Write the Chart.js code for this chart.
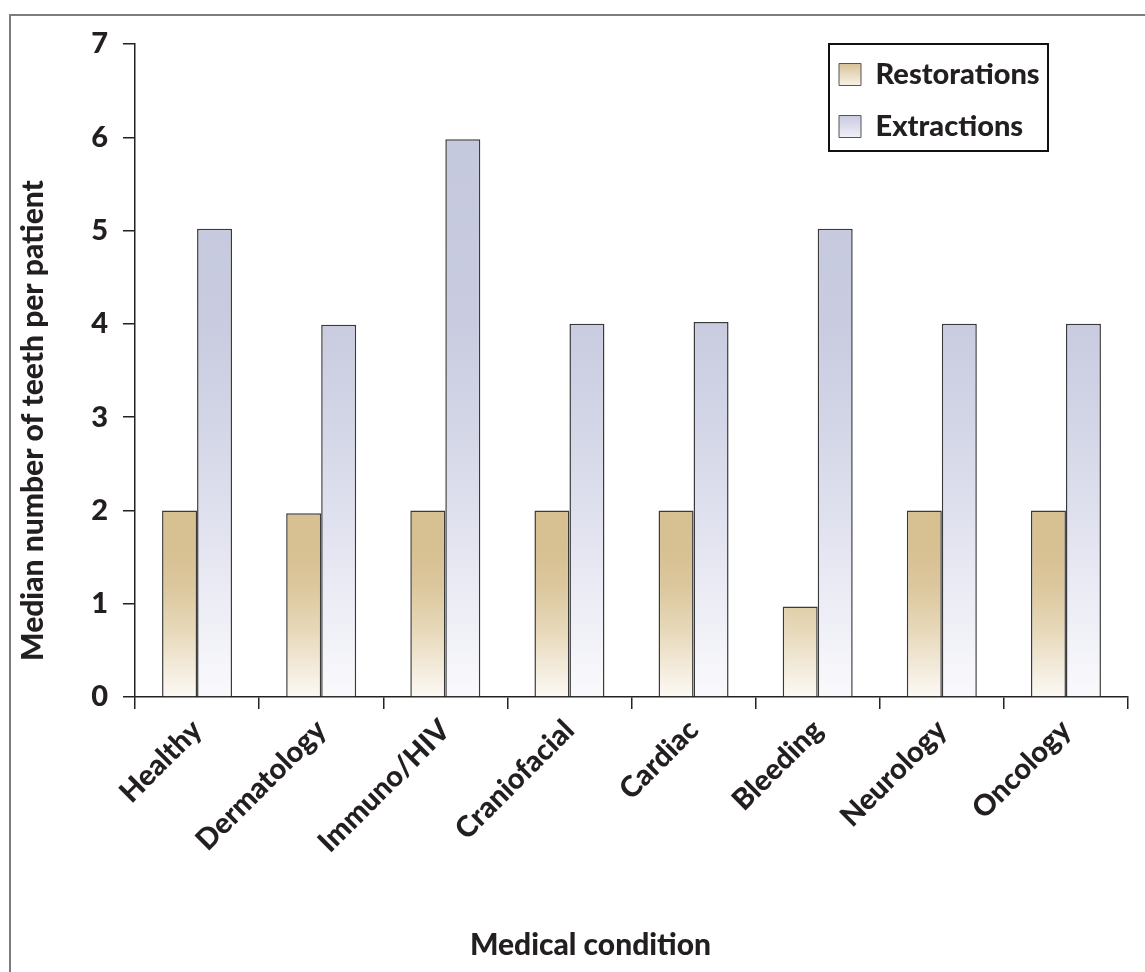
<!DOCTYPE html>
<html>
<head>
<meta charset="utf-8">
<script src="https://cdn.jsdelivr.net/npm/chart.js@4/dist/chart.umd.min.js"></script>
<style>
  html, body { margin: 0; padding: 0; background: #fff; }
  #wrap { position: relative; width: 1145px; height: 972px; overflow: hidden; }
  #frame { position: absolute; left: 9px; top: 14px; right: -10px; bottom: -10px;
           border-left: 2px solid #7d7d7d; border-top: 2px solid #7d7d7d; pointer-events: none; }
  canvas { position: absolute; left: 0; top: 0; }
</style>
</head>
<body>
<div id="wrap">
  <canvas id="chart" width="1145" height="972"></canvas>
  <div id="frame"></div>
</div>
<script>
// Median teeth treated per patient, by medical condition
const categories = ['Healthy', 'Dermatology', 'Immuno/HIV', 'Craniofacial', 'Cardiac', 'Bleeding', 'Neurology', 'Oncology'];
const restorations = [2, 1.97, 2, 2, 2, 0.97, 2, 2];
const extractions = [5.02, 3.99, 5.98, 4, 4.02, 5.02, 4, 4];
const yMin = 0;
const yMax = 7;
const yStep = 1;
const yTitle = 'Median number of teeth per patient';
const xTitle = 'Medical condition';

// Colour stops for the vertical fades, keyed by axis value
const restorationStops = [[0, '#fcfaf5'], [0.3, '#f3ecdc'], [0.7, '#e7d9ba'], [1.2, '#dcc79d'], [1.6, '#d7c091'], [7, '#d6be8e']];
const extractionStops = [[0, '#fafafd'], [1, '#ecedf5'], [2, '#dfe0ee'], [3, '#d2d5e6'], [4, '#c9cce0'], [7, '#c3c7dd']];
const swatchStops = [['#d8c297', '#f8f3e7'], ['#c8cbe0', '#f0f0f6']];

const FONT = 'Lato, "Open Sans", sans-serif';
const WEIGHT = '900';
const INK = '#231f20';
const LEG_PAD = 23;
const LEG_FONT = 29;
const LEG_BOX = 22;
const TICK_FONT = 29;
const TITLE_FONT = 30;

function verticalFill(stops) {
  return (context) => {
    const chart = context.chart;
    const { ctx, chartArea, scales } = chart;
    if (!chartArea || !scales.y) return stops[stops.length - 1][1];
    const y0 = scales.y.getPixelForValue(yMin);
    const y1 = scales.y.getPixelForValue(yMax);
    const g = ctx.createLinearGradient(0, y0, 0, y1);
    stops.forEach(([v, c]) => g.addColorStop((v - yMin) / (yMax - yMin), c));
    return g;
  };
}

// Legend sits inside the plot at the top right, framed; axis titles drawn beside the axes
const decor = {
  id: 'decor',
  afterLayout(chart) {
    const a = chart.chartArea;
    const lg = chart.legend;
    if (!lg) return;
    lg.left = a.right - 312;
    lg.top = a.top - 7;
  },
  afterDraw(chart) {
    const { ctx, chartArea: a } = chart;
    ctx.save();
    ctx.strokeStyle = '#111';
    ctx.lineWidth = 2;
    ctx.strokeRect(a.right - 299, a.top, 219, 107);
    ctx.fillStyle = INK;
    ctx.font = WEIGHT + ' ' + TITLE_FONT + 'px ' + FONT;
    ctx.textAlign = 'center';
    ctx.textBaseline = 'alphabetic';
    ctx.fillText(xTitle, (a.left + a.right) / 2 - 41, chart.height - 17);
    ctx.translate(a.left - 92, (a.top + a.bottom) / 2 + 50);
    ctx.rotate(-Math.PI / 2);
    ctx.fillText(yTitle, 0, 0);
    ctx.restore();
  }
};

new Chart(document.getElementById('chart'), {
  type: 'bar',
  data: {
    labels: categories,
    datasets: [
      {
        label: 'Restorations',
        data: restorations,
        backgroundColor: verticalFill(restorationStops),
        borderColor: '#3a3a3a',
        borderWidth: 1.5
      },
      {
        label: 'Extractions',
        data: extractions,
        backgroundColor: verticalFill(extractionStops),
        borderColor: '#3a3a3a',
        borderWidth: 1.5
      }
    ]
  },
  options: {
    responsive: false,
    animation: false,
    devicePixelRatio: 1,
    categoryPercentage: 0.564,
    barPercentage: 1,
    layout: { padding: { top: 44, right: 17, bottom: 0, left: 0 } },
    font: { family: FONT },
    plugins: {
      tooltip: { enabled: false },
      legend: {
        position: 'chartArea',
        align: 'start',
        labels: {
          color: INK,
          font: { family: FONT, size: LEG_FONT, weight: WEIGHT },
          boxWidth: LEG_BOX,
          boxHeight: LEG_BOX,
          padding: LEG_PAD,
          generateLabels(chart) {
            const items = Chart.defaults.plugins.legend.labels.generateLabels(chart);
            const lg = chart.legend;
            items.forEach((it, i) => {
              const top = (lg ? lg.top : 0) + LEG_PAD + i * (LEG_FONT + LEG_PAD) + (LEG_FONT - LEG_BOX) / 2;
              const g = chart.ctx.createLinearGradient(0, top, 0, top + LEG_BOX);
              g.addColorStop(0, swatchStops[i][0]);
              g.addColorStop(1, swatchStops[i][1]);
              it.fillStyle = g;
              it.strokeStyle = '#555';
              it.lineWidth = 1;
            });
            return items;
          }
        }
      }
    },
    scales: {
      x: {
        grid: { display: true, drawOnChartArea: false, drawTicks: true, tickLength: 12, color: '#222', lineWidth: 1.5, offset: true },
        border: { display: true, color: '#222', width: 1.5 },
        ticks: {
          color: INK,
          font: { family: FONT, size: TICK_FONT, weight: WEIGHT },
          autoSkip: false,
          maxRotation: 45,
          minRotation: 45,
          padding: 4
        },
        afterFit(scale) { scale.height = 275; }
      },
      y: {
        min: yMin,
        max: yMax,
        grid: { display: true, drawOnChartArea: false, drawTicks: true, tickLength: 12, color: '#222', lineWidth: 1.5 },
        border: { display: true, color: '#222', width: 1.5 },
        ticks: {
          stepSize: yStep,
          color: INK,
          font: { family: FONT, size: TICK_FONT, weight: WEIGHT },
          padding: 15
        },
        afterFit(scale) { scale.width = 135; }
      }
    }
  },
  plugins: [decor]
});
</script>
</body>
</html>
